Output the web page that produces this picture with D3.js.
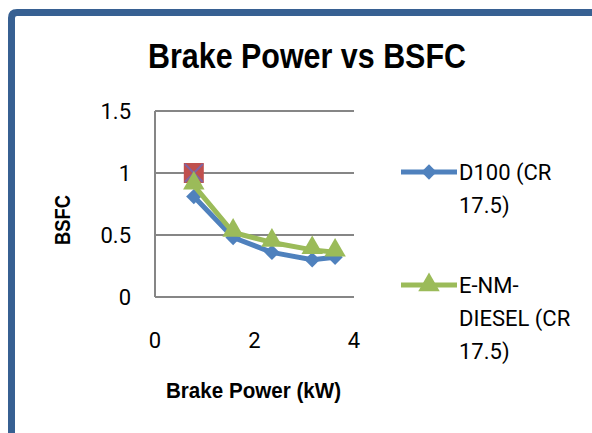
<!DOCTYPE html>
<html>
<head>
<meta charset="UTF-8">
<title>Brake Power vs BSFC</title>
<script src="https://cdn.jsdelivr.net/npm/d3@7"></script>
<style>
  body { margin: 0; background: #fff; }
  text { font-family: Roboto, "Liberation Sans", sans-serif; fill: #000; }
  .bold { font-family: "Liberation Sans Narrow", "Arial Narrow", "Liberation Sans", sans-serif; font-weight: bold; }
</style>
</head>
<body>
<script>
// values
var power = [0.78, 1.57, 2.35, 3.16, 3.62];
var d100 = [0.81, 0.48, 0.36, 0.30, 0.32];
var enm = [0.90, 0.52, 0.44, 0.38, 0.36];
var extraX = [0.78];
var extraY = [1.0];
var xTicks = [0, 2, 4];
var yTicks = [0, 0.5, 1, 1.5];
var seriesNames = [["D100 (CR", "17.5)"], ["E-NM-", "DIESEL (CR", "17.5)"]];

var w = 592, h = 433;
var svg = d3.select("body").append("svg").attr("width", w).attr("height", h);

// frame (only top and left edge visible)
svg.append("path")
    .attr("d", "M11.5," + (h + 5) + " L11.5,18 Q11.5,12.5 17,12.5 L" + (w + 5) + ",12.5")
    .style("fill", "none").style("stroke", "#376092").style("stroke-width", 7);

var x = d3.scaleLinear().domain([0, 4]).range([155, 354]);
var y = d3.scaleLinear().domain([0, 1.5]).range([297, 111]);

// gridlines
svg.selectAll("line.grid").data(yTicks).enter().append("line")
    .attr("x1", x(0)).attr("x2", x(4))
    .attr("y1", function(d) { return y(d); }).attr("y2", function(d) { return y(d); })
    .style("stroke", "#868686").style("stroke-width", 2);
svg.append("line").attr("x1", x(0)).attr("x2", x(0)).attr("y1", y(0)).attr("y2", y(1.5))
    .style("stroke", "#868686").style("stroke-width", 2);

svg.selectAll("text.ytick").data(yTicks).enter().append("text")
    .attr("x", 131).attr("y", function(d) { return y(d); }).attr("dy", "0.35em")
    .attr("text-anchor", "end").style("font-size", "22px")
    .text(function(d) { return d; });
svg.selectAll("text.xtick").data(xTicks).enter().append("text")
    .attr("x", function(d) { return x(d); }).attr("y", 340).attr("dy", "0.35em")
    .attr("text-anchor", "middle").style("font-size", "22px")
    .text(function(d) { return d; });

svg.append("text").attr("class", "bold").attr("x", 148).attr("y", 68)
    .attr("textLength", 318).attr("lengthAdjust", "spacingAndGlyphs")
    .style("font-size", "35px").text("Brake Power vs BSFC");
svg.append("text").attr("class", "bold").attr("x", 166).attr("y", 390).attr("dy", "0.35em")
    .attr("textLength", 175).attr("lengthAdjust", "spacingAndGlyphs")
    .style("font-size", "22px").text("Brake Power (kW)");
svg.append("text").attr("class", "bold")
    .attr("transform", "translate(62,245) rotate(-90)").attr("dy", "0.35em")
    .attr("textLength", 50).attr("lengthAdjust", "spacingAndGlyphs")
    .style("font-size", "22px").text("BSFC");

var line = d3.line()
    .x(function(d) { return x(d[0]); })
    .y(function(d) { return y(d[1]); });

var diamond = d3.symbol().type(d3.symbolDiamond2).size(150);
var triangle = d3.symbol().type(d3.symbolTriangle).size(200);

function series(vals, color, sym, dy) {
    var pts = d3.zip(power, vals);
    svg.append("path").datum(pts).attr("d", line)
        .style("fill", "none").style("stroke", color).style("stroke-width", 5)
        .style("stroke-linejoin", "round");
    svg.selectAll(null).data(pts).enter().append("path")
        .attr("d", sym)
        .attr("transform", function(d) { return "translate(" + x(d[0]) + "," + (y(d[1]) + dy) + ")"; })
        .style("fill", color);
}

// extra single point series (square and cross)
var ex = x(extraX[0]), ey = y(extraY[0]);
svg.append("rect").attr("x", ex - 10).attr("y", ey - 10).attr("width", 20).attr("height", 20)
    .style("fill", "#c0504d");
svg.append("path").attr("d", "M" + (ex - 9) + "," + (ey - 9) + "L" + (ex + 9) + "," + (ey + 9) +
    "M" + (ex + 9) + "," + (ey - 9) + "L" + (ex - 9) + "," + (ey + 9))
    .style("stroke", "#8064a2").style("stroke-width", 2);

series(d100, "#4f81bd", diamond, 0);
series(enm, "#9bbb59", triangle, -2);

// legend
var legend = [
    { y: 172, color: "#4f81bd", sym: diamond, lines: seriesNames[0] },
    { y: 285, color: "#9bbb59", sym: triangle, lines: seriesNames[1] }
];
legend.forEach(function(l) {
    svg.append("line").attr("x1", 401).attr("x2", 457).attr("y1", l.y).attr("y2", l.y)
        .style("stroke", l.color).style("stroke-width", 5);
    svg.append("path").attr("d", l.sym).attr("transform", "translate(429," + l.y + ")")
        .style("fill", l.color);
    l.lines.forEach(function(t, i) {
        svg.append("text").attr("x", 459).attr("y", l.y + i * 33).attr("dy", "0.35em")
            .style("font-size", "22px").text(t);
    });
});
</script>
</body>
</html>
